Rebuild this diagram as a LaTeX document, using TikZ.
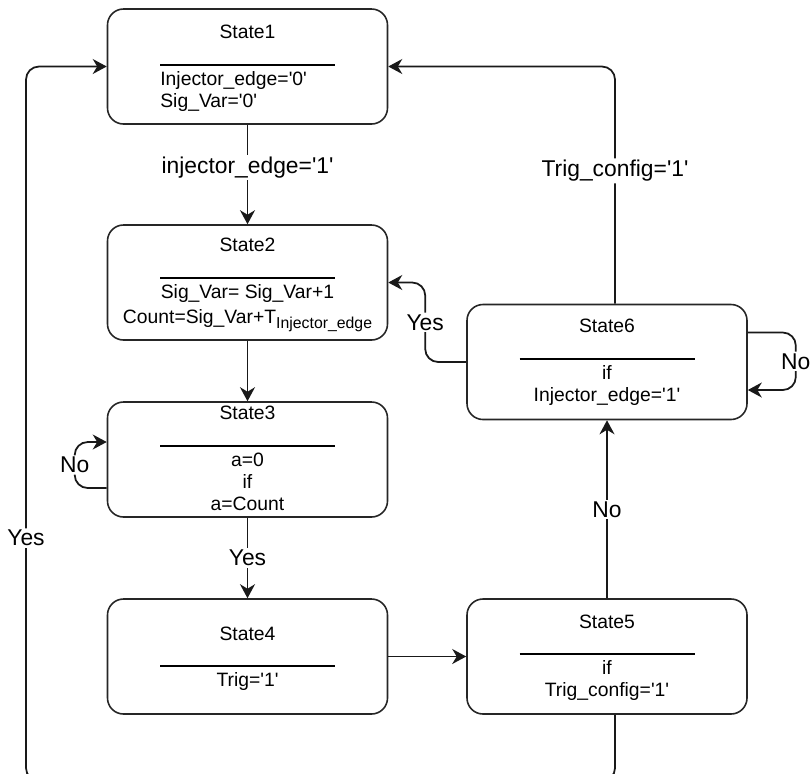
\documentclass[tikz,border=0pt]{standalone}
\usepackage{fontspec}
\setmainfont{Liberation Sans}
\usepackage{tikz}
\usetikzlibrary{arrows.meta, positioning, calc}
\newcommand{\q}{\textquotesingle}
\tikzset{
  statebox/.style={
    draw=black!85, rounded corners=0.32cm, line width=0.9pt, fill=white,
    minimum width=5.6cm, minimum height=2.3cm
  },
  statetitle/.style={
    font=\fontsize{11}{12.5}\selectfont, inner sep=0pt
  },
  statebody/.style={
    font=\fontsize{11}{12.5}\selectfont, align=center, inner sep=0pt,
    anchor=north
  },
  staterule/.style={line width=1pt},
  flowarrow/.style={
    -{Stealth[length=2.8mm, width=3mm, inset=0.9mm]}, line width=1pt,
    draw=black!90
  },
  flowlabel/.style={
    font=\fontsize{13}{15}\selectfont, fill=white, inner sep=1pt
  },
}
\begin{document}
\begin{tikzpicture}
  \useasboundingbox (0,0) rectangle (16.22,-15.46);
  \clip (0,0) rectangle (16.22,-15.46);

  % State 1
  \node[statebox] (state1) at (4.95,-1.33) {};
  \node[statetitle] (state1title) at ($(state1.north)+(0,-0.48)$) {State1};
  \draw[staterule] ($(state1.north)+(-1.75,-1.14)$) -- ++(3.5,0);
  \node[statebody, align=left, anchor=north west] (state1body)
    at ($(state1.north)+(-1.75,-1.26)$)
    {Injector\_edge=\q0\q\\Sig\_Var=\q0\q};

  % State 2
  \node[statebox] (state2) at (4.95,-5.65) {};
  \node[statetitle] (state2title) at ($(state2.north)+(0,-0.42)$) {State2};
  \draw[staterule] ($(state2.north)+(-1.75,-1.08)$) -- ++(3.5,0);
  \node[statebody] (state2body) at ($(state2.north)+(0,-1.2)$)
    {Sig\_Var= Sig\_Var+1\\[0.05cm]
     Count=Sig\_Var+T\raisebox{-0.1cm}{\fontsize{9}{10}\selectfont Injector\_edge}};

  % State 3
  \node[statebox] (state3) at (4.95,-9.19) {};
  \node[statetitle] (state3title) at ($(state3.north)+(0,-0.24)$) {State3};
  \draw[staterule] ($(state3.north)+(-1.75,-0.9)$) -- ++(3.5,0);
  \node[statebody] (state3body) at ($(state3.north)+(0,-1.02)$)
    {a=0\\if\\a=Count};

  % State 4
  \node[statebox] (state4) at (4.95,-13.13) {};
  \node[statetitle] (state4title) at ($(state4.north)+(0,-0.72)$) {State4};
  \draw[staterule] ($(state4.north)+(-1.75,-1.36)$) -- ++(3.5,0);
  \node[statebody] (state4body) at ($(state4.north)+(0,-1.48)$)
    {Trig=\q1\q};

  % State 5
  \node[statebox] (state5) at (12.14,-13.13) {};
  \node[statetitle] (state5title) at ($(state5.north)+(0,-0.48)$) {State5};
  \draw[staterule] ($(state5.north)+(-1.75,-1.12)$) -- ++(3.5,0);
  \node[statebody] (state5body) at ($(state5.north)+(0,-1.24)$)
    {if\\Trig\_config=\q1\q};

  % State 6
  \node[statebox] (state6) at (12.14,-7.24) {};
  \node[statetitle] (state6title) at ($(state6.north)+(0,-0.44)$) {State6};
  \draw[staterule] ($(state6.north)+(-1.75,-1.1)$) -- ++(3.5,0);
  \node[statebody] (state6body) at ($(state6.north)+(0,-1.22)$)
    {if\\Injector\_edge=\q1\q};

  % Straight transitions
  \draw[flowarrow] (state1) -- node[flowlabel, pos=0.43] (lblinj) {injector\_edge=\q1\q} (state2);
  \draw[flowarrow] (state2) -- (state3);
  \draw[flowarrow] (state3) -- node[flowlabel] (lblyes3) {Yes} (state4);
  \draw[flowarrow] (state4) -- (state5);
  \draw[flowarrow] (state5) -- node[flowlabel] (lblno5) {No} (state6);

  % Self loops
  \draw[flowarrow, rounded corners=0.26cm] ([yshift=-0.57cm]state3.west) -- ++(-0.64,0)
    |- node[flowlabel, pos=0.25] (lblno3) {No} ([yshift=0.35cm]state3.west);
  \draw[flowarrow, rounded corners=0.26cm] ([yshift=0.59cm]state6.east) -- ++(0.96,0)
    |- node[flowlabel, pos=0.25] (lblno6) {No} ([yshift=-0.56cm]state6.east);

  % Return paths
  \draw[flowarrow, rounded corners=0.26cm] (state6.west) -- ++(-0.82,0)
    |- node[flowlabel, pos=0.25] (lblyes6) {Yes} (state2.east);
  \draw[flowarrow, rounded corners=0.26cm] ([xshift=0.16cm]state6.north)
    |- node[flowlabel, pos=0.28] (lbltrig) {Trig\_config=\q1\q} (state1.east);
  \coordinate (yesbottom) at (0.52,-15.62);
  \draw[flowarrow, rounded corners=0.26cm] ([xshift=0.16cm]state5.south) |- (yesbottom)
    |- node[flowlabel, pos=0.17] (lblyes5) {Yes} (state1.west);
\end{tikzpicture}
\end{document}
